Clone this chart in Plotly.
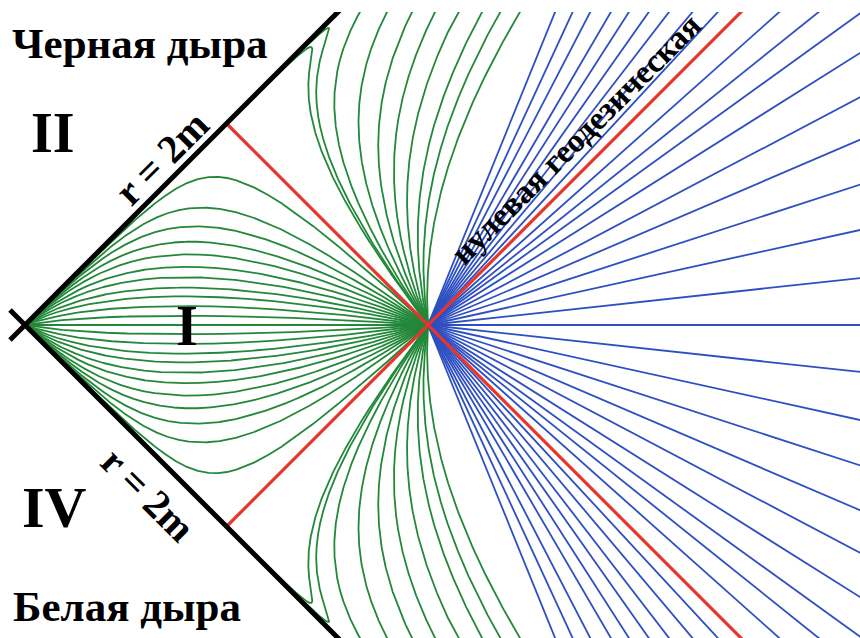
import numpy as np
import plotly.graph_objects as go

# Radius r/2m of the event where the green and blue families meet
RHO_C = 5.0

# Green lines (straight in Schwarzschild t, r through the event), upper half; lower half mirrored.
# Heights at the midpoint between the bifurcation point and the event (units of that distance)
green_mid_heights = [0.022, 0.045, 0.068, 0.089, 0.114, 0.139, 0.169, 0.200, 0.238, 0.285, 0.365]
# Highest point of the lines that only touch the horizon
green_peak_heights = [0.690, 0.737]
# Abscissae where the steep lines leave the top of the diagram
green_top_exits = [0.831, 0.898, 0.960, 1.017, 1.074, 1.134, 1.179, 1.228]

# Blue rays: directions above the horizontal, degrees (mirrored below)
blue_angles = [0.0, 6.2, 12.4, 18.0, 23.2, 27.8, 32.2, 35.8, 38.7, 41.7,
               47.2, 49.8, 52.4, 54.8, 57.3, 59.7, 62.6, 65.2, 67.9]

GREEN = "#23883a"
BLUE = "#2d4fc2"
RED = "#e8352b"
FONT = "Liberation Serif"

W, H, TOP = 860, 638, 12
VX, VY, VC = 25.0, 325.0, 403.0          # bifurcation point and V-C distance, px
TOP_EDGE = (VY - TOP) / VC               # upper edge of the diagram in chart units


def f_of(rho):
    return np.sqrt(np.clip(rho - 1.0, 0.0, None)) * np.exp(rho / 2.0)


XC = f_of(RHO_C)


def curve(k):
    """Kruskal image of the line t/4m = k (r_c - r)/2m through the event, normalised so C = (1, 0)."""
    parts = [RHO_C - (RHO_C - 1.0) * np.linspace(0, 1, 2500),
             1.0 + (RHO_C - 1.0) * np.logspace(-1, -15, 900)]
    if abs(k) > 1e-12:
        parts.append(RHO_C - np.linspace(0, 4.0, 2000) / abs(k))
    rho = np.concatenate(parts)
    rho = np.unique(rho[rho >= 1.0])[::-1]
    tau = k * (RHO_C - rho)
    with np.errstate(over="ignore", invalid="ignore"):
        f = f_of(rho) / XC
        x = f * np.cosh(tau)
        y = f * np.sinh(tau)
    bad = ~np.isfinite(x) | ~np.isfinite(y) | (np.abs(x) > 6) | (np.abs(y) > 6)
    x = np.where(bad, np.nan, x)
    y = np.where(bad, np.nan, y)
    return x, y


def features(k):
    x, y = curve(k)
    yy = np.where(np.isfinite(y), y, -np.inf)
    ipk = int(np.argmax(yy))
    peak = yy[ipk] if np.isfinite(yy[ipk]) else 6.0
    if np.isnan(y).any() and np.nanmax(y) < 6 and (np.isnan(y[:ipk + 1]).any()):
        peak = 6.0
    mid = np.nan
    idx = np.where(x[:ipk + 1] <= 0.5)[0]
    if len(idx):
        i = idx[0]
        x0, x1, y0, y1 = x[i - 1], x[i], y[i - 1], y[i]
        mid = y0 + (0.5 - x0) * (y1 - y0) / (x1 - x0)
    top = np.nan
    idx = np.where(np.nan_to_num(y, nan=9.0) >= TOP_EDGE)[0]
    if len(idx):
        i = idx[0]
        x0, x1, y0, y1 = x[i - 1], x[i], y[i - 1], y[i]
        if np.isfinite(x1):
            top = x0 + (TOP_EDGE - y0) * (x1 - x0) / (y1 - y0)
        else:
            top = x0
    return mid, peak, top


k_grid = np.concatenate([np.linspace(0.002, 1.5, 900), np.geomspace(1.5, 400, 400)[1:]])
feat = np.array([features(k) for k in k_grid])
mids, peaks, tops = feat[:, 0], feat[:, 1], feat[:, 2]


def invert(targets, values):
    ok = np.isfinite(values)
    v, kk = values[ok], k_grid[ok]
    v = np.maximum.accumulate(v)
    v, uniq = np.unique(v, return_index=True)
    return list(np.interp(targets, v, kk[uniq]))


k_lens = invert(green_mid_heights, mids)
k_touch = invert(green_peak_heights, np.where(peaks < TOP_EDGE, peaks, np.nan))
k_steep = invert(green_top_exits, tops)
k_up = [0.0] + k_lens + k_touch + k_steep

fig = go.Figure()

for k in sorted(set(k_up + [-k for k in k_up])):
    x, y = curve(k)
    fig.add_trace(go.Scatter(x=x, y=y, mode="lines", line=dict(color=GREEN, width=1.8),
                             hoverinfo="skip"))

L = 5.0
for a in sorted(set(blue_angles + [-a for a in blue_angles])):
    r = np.radians(a)
    fig.add_trace(go.Scatter(x=[1.0, 1.0 + L * np.cos(r)], y=[0.0, L * np.sin(r)],
                             mode="lines", line=dict(color=BLUE, width=1.8), hoverinfo="skip"))

# null geodesics through the event, from the horizons
for s in (1, -1):
    fig.add_trace(go.Scatter(x=[0.5, 1.0 + L], y=[s * 0.5, -s * L], mode="lines",
                             line=dict(color=RED, width=3.2), hoverinfo="skip"))

# horizons r = 2m, crossing at the bifurcation point
e = 15.0 / VC
for s in (1, -1):
    fig.add_trace(go.Scatter(x=[-e, L], y=[-s * e, s * L], mode="lines",
                             line=dict(color="black", width=5), hoverinfo="skip"))


def paper(px, py):
    return px / W, (H - py) / (H - TOP)


labels = [
    ("Черная дыра", 140, 43, 43, 0),
    ("II", 53, 133, 56, 0),
    ("r = 2m", 161, 158, 40, -45),
    ("I", 187, 326, 56, 0),
    ("IV", 54, 507, 58, 0),
    ("r = 2m", 148, 494, 40, 45),
    ("Белая дыра", 127, 606, 43, 0),
    ("нулевая геодезическая", 576, 139, 33, -45),
]
for text, px, py, size, ang in labels:
    ax, ay = paper(px, py)
    fig.add_annotation(x=ax, y=ay, xref="paper", yref="paper", text="<b>%s</b>" % text,
                       showarrow=False, xanchor="center", yanchor="middle",
                       textangle=ang, font=dict(family=FONT, size=size, color="black"))

fig.update_layout(
    width=W, height=H, margin=dict(l=0, r=0, t=TOP, b=0),
    paper_bgcolor="white", plot_bgcolor="white", showlegend=False,
    xaxis=dict(range=[-VX / VC, (W - VX) / VC], visible=False, fixedrange=True),
    yaxis=dict(range=[-TOP_EDGE, TOP_EDGE], visible=False, fixedrange=True),
)

fig.write_html("out.html")
